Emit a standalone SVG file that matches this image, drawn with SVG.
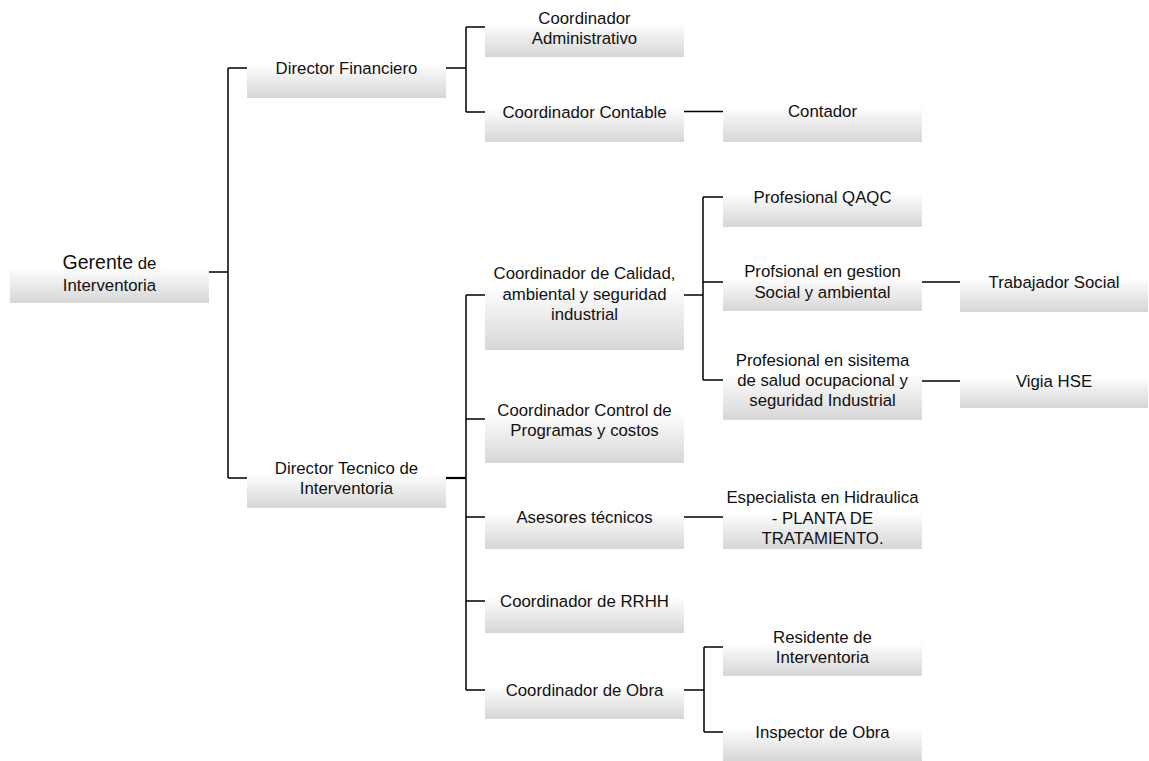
<svg xmlns="http://www.w3.org/2000/svg" width="1149" height="761" viewBox="0 0 1149 761">
<defs>
<linearGradient id="g" x1="0" y1="0" x2="0" y2="1">
<stop offset="0" stop-color="#ffffff"/>
<stop offset="0.42" stop-color="#ffffff"/>
<stop offset="1" stop-color="#d6d6d6"/>
</linearGradient>
</defs>
<style>
.b{fill:url(#g);stroke:none}
.t{font-family:"Liberation Sans",Arial,sans-serif;font-size:16.8px;fill:#111;text-anchor:middle}
.c{fill:none;stroke:#000;stroke-width:1.5}
</style>
<rect width="1149" height="761" fill="#fff"/>
<g id="connectors">
<path class="c" d="M209,272H228M228,68V478M228,68H247M228,478H247"/>
<path class="c" d="M446,68H466M466,27V112M466,27H485M466,112H485"/>
<path class="c" d="M684,111.5H723"/>
<path class="c" style="stroke-width:2.2" d="M446,478H466"/>
<path class="c" d="M466,295V690M466,295H485M466,419H485M466,517H485M466,601H485M466,690H485"/>
<path class="c" d="M684,295H703M703,197V380M703,197H723M703,282H723M703,380H723"/>
<path class="c" d="M922,282H960M922,381H960"/>
<path class="c" d="M684,517H723"/>
<path class="c" d="M684,690H704M704,647V732M704,647H723M704,732H723"/>
</g>
<g id="n-gerente"><rect class="b" x="10" y="241" width="199" height="62"/>
<text class="t" x="109.5" y="269"><tspan style="font-size:19.5px">Gerente</tspan> de</text>
<text class="t" x="109.5" y="291">Interventoria</text></g>
<g id="n-dirfin"><rect class="b" x="247" y="38" width="199" height="60"/>
<text class="t" x="346.5" y="74">Director Financiero</text></g>
<g id="n-coordadm"><rect class="b" x="485" y="-3" width="199" height="60"/>
<text class="t" x="584.5" y="24">Coordinador</text>
<text class="t" x="584.5" y="43.5">Administrativo</text></g>
<g id="n-coordcont"><rect class="b" x="485" y="82" width="199" height="60"/>
<text class="t" x="584.5" y="118">Coordinador Contable</text></g>
<g id="n-contador"><rect class="b" x="723" y="80" width="199" height="62"/>
<text class="t" x="822.5" y="117">Contador</text></g>
<g id="n-dirtec"><rect class="b" x="247" y="448" width="199" height="60"/>
<text class="t" x="346.5" y="474">Director Tecnico de</text>
<text class="t" x="346.5" y="494">Interventoria</text></g>
<g id="n-calidad"><rect class="b" x="485" y="240" width="199" height="110"/>
<text class="t" x="584.5" y="279">Coordinador de Calidad,</text>
<text class="t" x="584.5" y="299.5">ambiental y seguridad</text>
<text class="t" x="584.5" y="320">industrial</text></g>
<g id="n-qaqc"><rect class="b" x="723" y="167" width="199" height="60"/>
<text class="t" x="822.5" y="203">Profesional QAQC</text></g>
<g id="n-gestion"><rect class="b" x="723" y="253" width="199" height="58"/>
<text class="t" x="822.5" y="277">Profsional en gestion</text>
<text class="t" x="822.5" y="297.5">Social y ambiental</text></g>
<g id="n-trabajador"><rect class="b" x="960" y="252" width="188" height="60"/>
<text class="t" x="1054" y="288">Trabajador Social</text></g>
<g id="n-sisitema"><rect class="b" x="723" y="340" width="199" height="80"/>
<text class="t" x="822.5" y="366">Profesional en sisitema</text>
<text class="t" x="822.5" y="386">de salud ocupacional  y</text>
<text class="t" x="822.5" y="406">seguridad Industrial</text></g>
<g id="n-vigia"><rect class="b" x="960" y="354" width="188" height="54"/>
<text class="t" x="1054" y="387">Vigia HSE</text></g>
<g id="n-control"><rect class="b" x="485" y="375" width="199" height="88"/>
<text class="t" x="584.5" y="415.5">Coordinador Control de</text>
<text class="t" x="584.5" y="436">Programas y costos</text></g>
<g id="n-asesores"><rect class="b" x="485" y="485" width="199" height="64"/>
<text class="t" x="584.5" y="523">Asesores técnicos</text></g>
<g id="n-especialista"><rect class="b" x="723" y="485" width="199" height="64"/>
<text class="t" x="822.5" y="503">Especialista en Hidraulica</text>
<text class="t" x="822.5" y="523.5">- PLANTA DE</text>
<text class="t" x="822.5" y="544">TRATAMIENTO.</text></g>
<g id="n-rrhh"><rect class="b" x="485" y="569" width="199" height="64"/>
<text class="t" x="584.5" y="607">Coordinador de RRHH</text></g>
<g id="n-obra"><rect class="b" x="485" y="661" width="199" height="58"/>
<text class="t" x="584.5" y="696">Coordinador de Obra</text></g>
<g id="n-residente"><rect class="b" x="723" y="618" width="199" height="58"/>
<text class="t" x="822.5" y="643">Residente de</text>
<text class="t" x="822.5" y="663">Interventoria</text></g>
<g id="n-inspector"><rect class="b" x="723" y="703" width="199" height="58"/>
<text class="t" x="822.5" y="738">Inspector de Obra</text></g>
</svg>
